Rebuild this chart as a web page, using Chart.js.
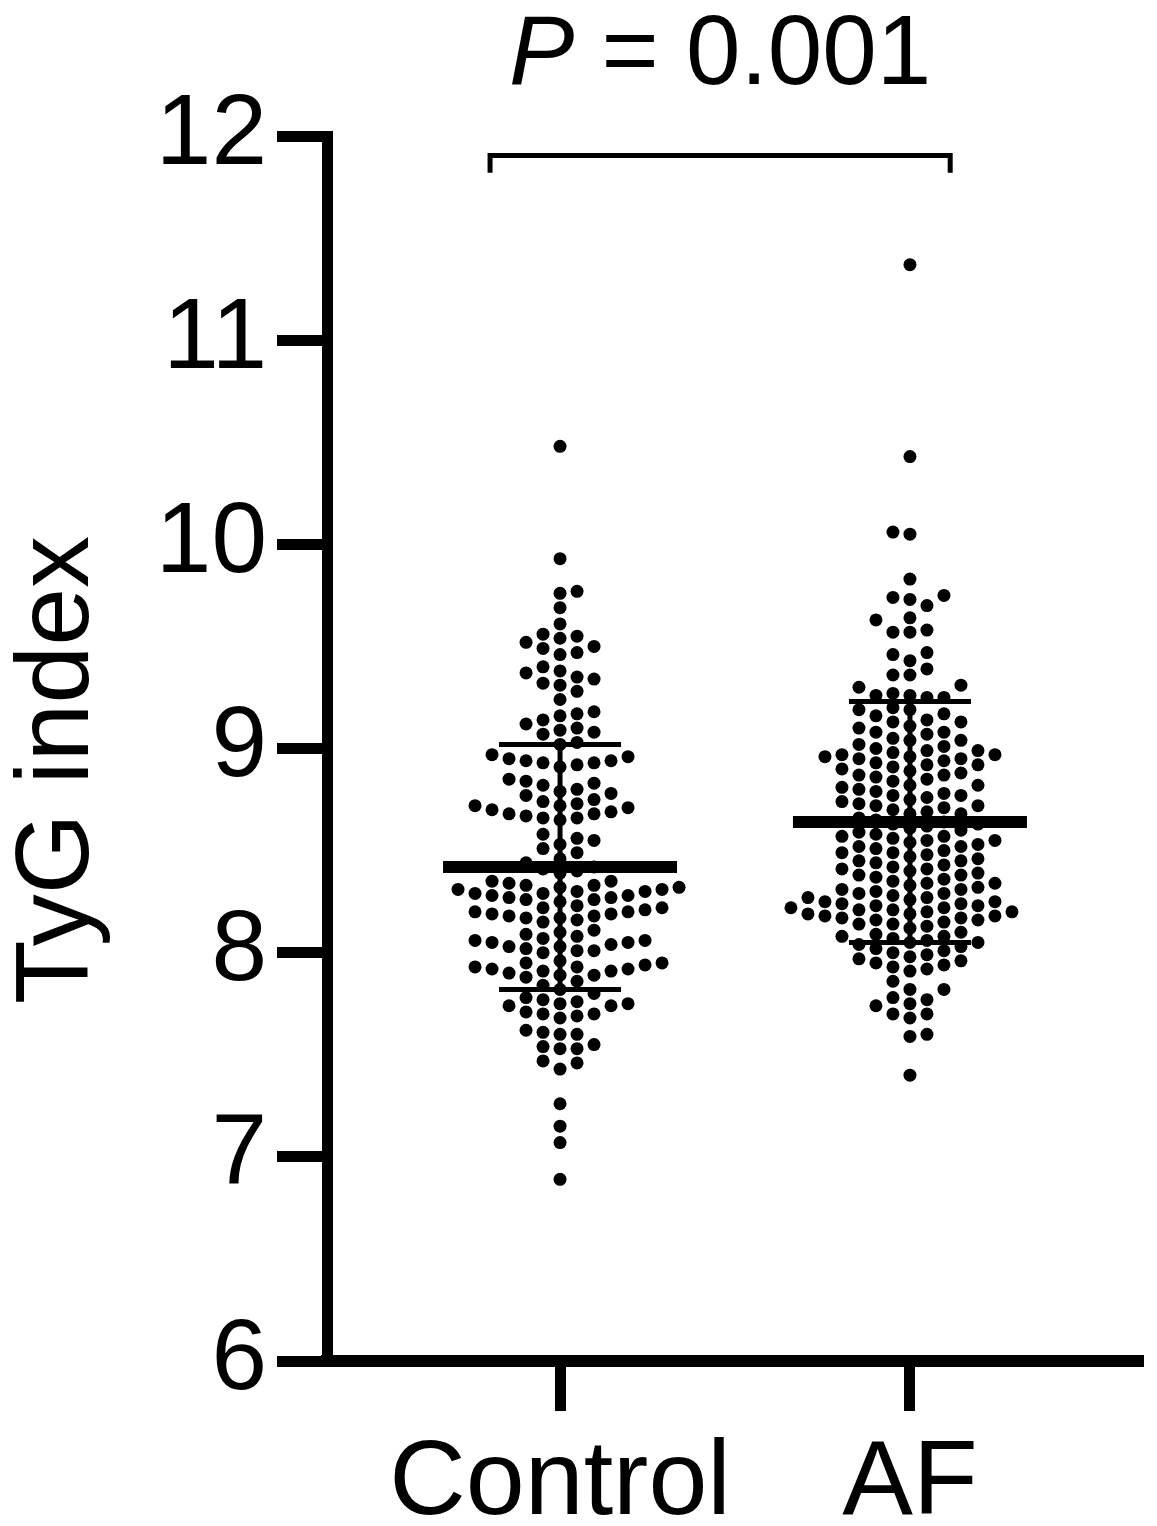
<!DOCTYPE html>
<html>
<head>
<meta charset="utf-8">
<script src="https://cdn.jsdelivr.net/npm/chart.js@4.4.1/dist/chart.umd.min.js"></script>
<style>
    html, body { margin: 0; padding: 0; background: #fff; }
    #wrap { width: 1157px; height: 1526px; position: relative; }
</style>
</head>
<body>
<div id="wrap"><canvas id="chart"></canvas></div>
<script>
// TyG index, Control vs AF (scatter dot plot, mean ± SD)

const groups = ["Control", "AF"];

// values, row by row from top to bottom
const controlValues = [
    10.48, 9.93,
    9.77, 9.76, 9.69, 9.61, 9.56, 9.55, 9.54,
    9.52, 9.50, 9.49, 9.47, 9.46,
    9.40, 9.38, 9.37, 9.35, 9.34, 9.32, 9.31,
    9.28, 9.24,
    9.18, 9.17, 9.16, 9.14, 9.12, 9.10,
    9.09, 9.08, 9.07, 9.03, 9.02,
    8.97, 8.96, 8.95, 8.94, 8.94, 8.93, 8.93, 8.92, 8.91,
    8.85, 8.84, 8.83, 8.82, 8.80, 8.79, 8.78, 8.77,
    8.75, 8.74, 8.73, 8.72, 8.72, 8.71, 8.70, 8.69, 8.68, 8.68, 8.67, 8.66, 8.66, 8.65,
    8.58, 8.56, 8.55, 8.53, 8.51, 8.49,
    8.46, 8.44, 8.42, 8.41, 8.40, 8.39,
    8.35, 8.35, 8.34, 8.33, 8.33, 8.32, 8.32, 8.31, 8.31, 8.30,
    8.30, 8.29, 8.29, 8.28, 8.28, 8.27, 8.27, 8.26, 8.26, 8.25,
    8.23, 8.22, 8.22, 8.21, 8.20, 8.20, 8.19, 8.19, 8.18, 8.18, 8.17, 8.17, 8.16, 8.15,
    8.11, 8.10, 8.09, 8.08, 8.07, 8.06, 8.06, 8.05, 8.05, 8.04, 8.03, 8.03, 8.02, 8.01, 8.01, 8.00,
    7.96, 7.95, 7.95, 7.94, 7.93, 7.93, 7.92, 7.92, 7.91, 7.91, 7.90, 7.89, 7.89, 7.88,
    7.86, 7.84, 7.82, 7.80, 7.78, 7.77,
    7.76, 7.75, 7.75, 7.74, 7.74,
    7.71, 7.70, 7.70, 7.69, 7.68,
    7.62, 7.61, 7.60, 7.60,
    7.55, 7.54, 7.53, 7.53,
    7.47, 7.46, 7.43,
    7.26, 7.15, 7.07, 6.89
];

const afValues = [
    11.37, 10.43, 10.06, 10.05,
    9.83, 9.75, 9.74, 9.73, 9.70,
    9.64, 9.63, 9.58, 9.57, 9.57,
    9.47, 9.46, 9.43, 9.39, 9.36, 9.36, 9.31, 9.30,
    9.27, 9.26, 9.26, 9.25, 9.25,
    9.20, 9.19, 9.19, 9.17, 9.16, 9.14, 9.13, 9.13, 9.11, 9.10, 9.08, 9.08, 9.07, 9.05,
    9.04, 9.04, 9.02, 9.01, 9.00, 8.99, 8.99, 8.98, 8.97, 8.97, 8.96, 8.96, 8.95, 8.95,
    8.94, 8.93, 8.92, 8.92, 8.91, 8.90, 8.89, 8.88, 8.87, 8.87, 8.86, 8.85, 8.84, 8.82, 8.82, 8.81,
    8.80, 8.79, 8.78, 8.77, 8.77, 8.76, 8.75, 8.74, 8.73, 8.72, 8.72, 8.71, 8.70, 8.69, 8.68, 8.68,
    8.66, 8.65, 8.64, 8.63, 8.63, 8.62, 8.61, 8.60,
    8.59, 8.58, 8.57, 8.57, 8.56, 8.55, 8.55, 8.54, 8.53, 8.52, 8.52, 8.51,
    8.50, 8.49, 8.49, 8.48, 8.47, 8.46, 8.45, 8.45, 8.44, 8.43, 8.42, 8.41, 8.41,
    8.40, 8.39, 8.38, 8.38, 8.37, 8.36, 8.35, 8.34, 8.34, 8.33, 8.32, 8.31, 8.31,
    8.30, 8.29, 8.29, 8.28, 8.27, 8.27, 8.26, 8.25, 8.25, 8.24, 8.24, 8.23, 8.23, 8.22, 8.22, 8.21, 8.21,
    8.20, 8.20, 8.19, 8.19, 8.18, 8.18, 8.17, 8.17, 8.16, 8.16, 8.15, 8.14, 8.14, 8.13, 8.12,
    8.10, 8.09, 8.08, 8.08, 8.07, 8.06, 8.05, 8.05, 8.04, 8.03, 8.02,
    8.01, 8.00, 7.99, 7.98, 7.97, 7.96, 7.95, 7.94, 7.93, 7.92, 7.91,
    7.86, 7.82, 7.82, 7.78, 7.77, 7.75, 7.74, 7.70, 7.70, 7.68, 7.60, 7.59,
    7.40
];

const groupMeans = [8.42, 8.64];
const groupSDs   = [0.60, 0.59];

const yTickValues = [6, 7, 8, 9, 10, 11, 12];
const pLabel      = "P";
const pValueText  = " = 0.001";
const bracketEnds = [0.80, 2.115];   // x values of bracket ends
const bracketY    = 11.905;
const bracketDrop = 11.82;

// layout (pixels)
const AREA = { left: 327, top: 136, right: 1143, bottom: 1361 };
const X_MIN = 0.334, X_MAX = 2.666;
const Y_MIN = 6, Y_MAX = 12;
const PX_X = (AREA.right - AREA.left) / (X_MAX - X_MIN);
const PX_Y = (AREA.bottom - AREA.top) / (Y_MAX - Y_MIN);
const COL_STEP = 17 / PX_X;     // column spacing of the dots
const MIN_GAP  = 14 / PX_Y;     // vertical gap for dots in one column
const MEAN_HALF = 117 / PX_X;
const SD_HALF   = 61 / PX_X;
const FONT = "'Liberation Sans', Arial, Helvetica, sans-serif";

// simple column beeswarm, dots pushed sideways when they would overlap
function swarm(values, center) {
    const placed = [];
    let flip = 1;
    const sorted = values.slice().sort((a, b) => a - b);
    return sorted.map(v => {
        for (let d = 0; d < 60; d++) {
            const tries = d === 0 ? [0] : [d * flip, -d * flip];
            for (const k of tries) {
                const hit = placed.some(p => p.k === k && Math.abs(p.v - v) < MIN_GAP);
                if (!hit) {
                    placed.push({ k, v });
                    if (d > 0) flip = -flip;
                    return { x: center + k * COL_STEP, y: v };
                }
            }
        }
        return { x: center, y: v };
    });
}

function meanLine(i) {
    const c = i + 1, m = groupMeans[i];
    return [{ x: c - MEAN_HALF, y: m }, { x: c + MEAN_HALF, y: m }];
}

function sdLines(i) {
    const c = i + 1, lo = groupMeans[i] - groupSDs[i], hi = groupMeans[i] + groupSDs[i];
    return [
        { x: c - SD_HALF, y: hi }, { x: c + SD_HALF, y: hi }, { x: c, y: null },
        { x: c, y: hi }, { x: c, y: lo }, { x: c, y: null },
        { x: c - SD_HALF, y: lo }, { x: c + SD_HALF, y: lo }
    ];
}

const datasets = [];
[controlValues, afValues].forEach((vals, i) => {
    datasets.push({
        type: "scatter",
        data: swarm(vals, i + 1),
        pointRadius: 6.5,
        pointBackgroundColor: "#000",
        pointBorderWidth: 0,
        order: 2,
    });
    datasets.push({
        type: "line",
        data: meanLine(i),
        borderColor: "#000",
        borderWidth: 12,
        pointRadius: 0,
        borderCapStyle: "butt",
        order: 1,
    });
    datasets.push({
        type: "line",
        data: sdLines(i),
        borderColor: "#000",
        borderWidth: 5,
        pointRadius: 0,
        spanGaps: false,
        borderCapStyle: "butt",
        order: 1,
    });
});

// P value, bracket and y title
const extrasPlugin = {
    id: "extras",
    afterDraw(chart) {
        const ctx = chart.ctx;
        const xs = chart.scales.x, ys = chart.scales.y;
        ctx.save();
        ctx.strokeStyle = "#000";
        ctx.lineWidth = 5;
        ctx.lineJoin = "miter";
        const x0 = xs.getPixelForValue(bracketEnds[0]);
        const x1 = xs.getPixelForValue(bracketEnds[1]);
        const yb = ys.getPixelForValue(bracketY);
        const yd = ys.getPixelForValue(bracketDrop);
        ctx.beginPath();
        ctx.moveTo(x0, yd);
        ctx.lineTo(x0, yb);
        ctx.lineTo(x1, yb);
        ctx.lineTo(x1, yd);
        ctx.stroke();

        ctx.fillStyle = "#000";
        ctx.textBaseline = "alphabetic";
        const italic = "italic 98px " + FONT;
        const normal = "98px " + FONT;
        ctx.font = italic;
        const wP = ctx.measureText(pLabel).width;
        ctx.font = normal;
        const wR = ctx.measureText(pValueText).width;
        const cx = (x0 + x1) / 2;
        let start = cx - (wP + wR) / 2;
        ctx.font = italic;
        ctx.textAlign = "left";
        ctx.fillText(pLabel, start, 84);
        ctx.font = normal;
        ctx.fillText(pValueText, start + wP, 84);

        ctx.translate(88, 770);
        ctx.rotate(-Math.PI / 2);
        ctx.textAlign = "center";
        ctx.font = "104px " + FONT;
        ctx.fillText("TyG index", 0, 0);
        ctx.restore();
    }
};

new Chart(document.getElementById("chart"), {
    data: { datasets },
    options: {
        responsive: true,
        maintainAspectRatio: false,
        animation: false,
        layout: { padding: { left: 0, top: AREA.top, right: 1157 - AREA.right, bottom: 0 } },
        plugins: { legend: { display: false }, tooltip: { enabled: false } },
        scales: {
            x: {
                type: "linear",
                min: X_MIN,
                max: X_MAX,
                afterBuildTicks: (s) => { s.ticks = groups.map((g, i) => ({ value: i + 1 })); },
                afterFit: (s) => { s.height = 1526 - AREA.bottom; },
                ticks: {
                    callback: (v) => groups[Math.round(v) - 1],
                    color: "#000",
                    font: { family: FONT, size: 106 },
                    padding: 10,
                    maxRotation: 0,
                    autoSkip: false,
                },
                grid: { drawOnChartArea: false, drawTicks: true, tickLength: 50, tickWidth: 11, tickColor: "#000" },
                border: { color: "#000", width: 12 },
            },
            y: {
                type: "linear",
                min: Y_MIN,
                max: Y_MAX,
                afterBuildTicks: (s) => { s.ticks = yTickValues.map(v => ({ value: v })); },
                afterFit: (s) => { s.width = AREA.left; },
                ticks: {
                    color: "#000",
                    font: { family: FONT, size: 100 },
                    padding: 10,
                },
                grid: { drawOnChartArea: false, drawTicks: true, tickLength: 50, tickWidth: 11, tickColor: "#000" },
                border: { color: "#000", width: 11 },
            },
        },
    },
    plugins: [extrasPlugin],
});
</script>
</body>
</html>
